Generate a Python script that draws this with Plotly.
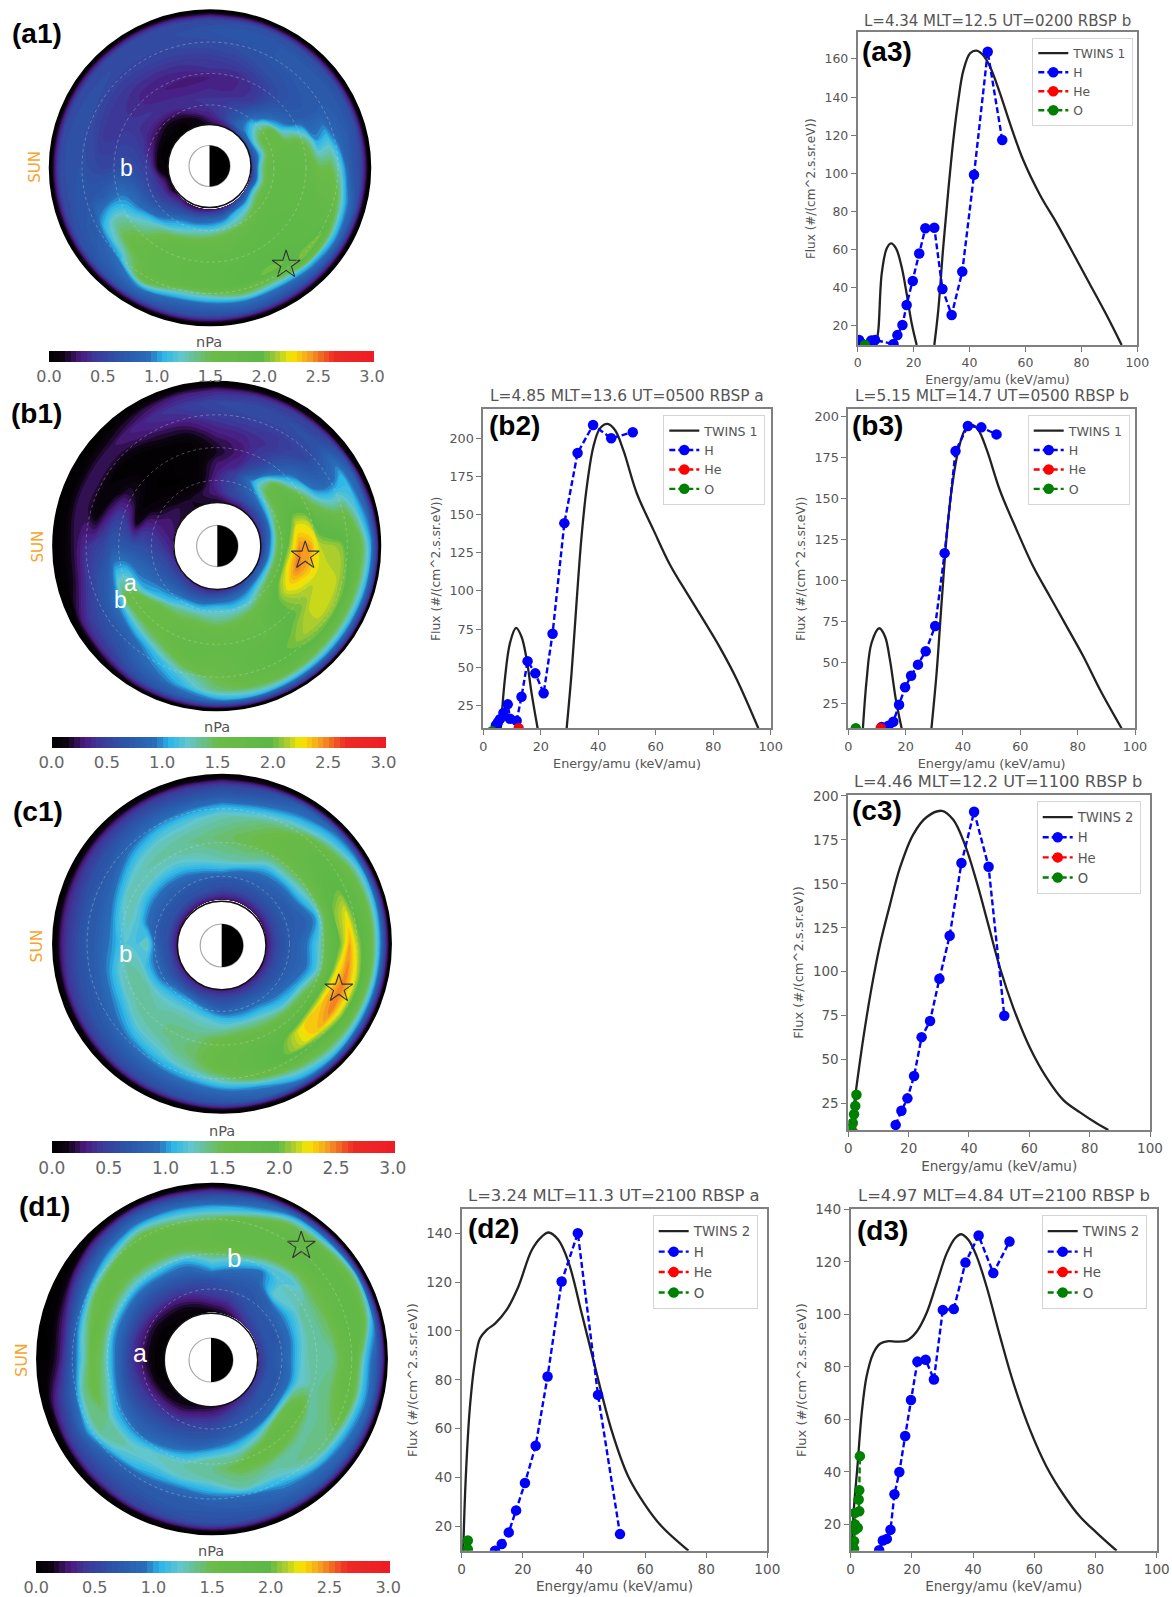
import math
import plotly.graph_objects as go

W, H = 1172, 1597

# ---------- pressure maps: rows = clock angle (0 top, clockwise, 15 deg step), columns = radial fraction ----------
ring_frac = [0, .08, .16, .25, .33, .42, .5, .58, .67, .75, .83, .92, .97, 1.0]
clock_deg = [i * 15 for i in range(25)]

a1_pressure = [
 [.15,.3,.4,.4,.35,.3,.4,.45,.55,.6,.65,.55,.2,0],
 [.2,.45,.5,.42,.35,.33,.4,.5,.6,.65,.7,.6,.2,0],
 [.25,.8,.7,.55,.42,.42,.5,.6,.65,.7,.7,.6,.2,0],
 [.5,1.0,1.15,.9,.75,.65,.62,.65,.7,.72,.72,.6,.2,0],
 [.5,1.2,1.6,1.7,1.1,.85,.75,.72,.72,.75,.75,.6,.2,0],
 [.5,1.05,1.6,1.7,1.7,1.7,1.4,1.0,1.1,.85,.75,.6,.2,0],
 [.4,1.3,1.7,1.75,1.75,1.75,1.7,1.5,1.5,1.2,.75,.55,.2,0],
 [.4,1.2,1.7,1.8,1.8,1.8,1.8,1.75,1.7,1.55,1.05,.65,.2,0],
 [.6,1.3,1.7,1.8,1.85,1.85,1.85,1.85,1.85,2.0,1.2,.7,.2,0],
 [.5,1.1,1.5,1.8,1.85,1.9,1.9,1.9,1.95,2.05,1.1,.65,.2,0],
 [.4,1.05,1.3,1.7,1.8,1.85,1.9,1.95,2.05,1.5,.95,.6,.2,0],
 [.3,.85,1.2,1.6,1.7,1.8,1.85,1.9,1.9,1.55,.95,.65,.2,0],
 [.25,.8,1.1,1.5,1.75,1.75,1.8,1.8,1.8,1.3,.85,.6,.2,0],
 [.2,.7,1.05,1.4,1.7,1.75,1.75,1.75,1.75,1.25,.85,.6,.2,0],
 [.2,.6,.95,1.2,1.55,1.7,1.75,1.75,1.7,1.7,1.0,.65,.2,0],
 [.25,.5,.7,.95,1.25,1.4,1.55,1.6,1.3,.95,.8,.65,.2,0],
 [.1,.4,.55,.75,.95,1.15,1.3,1.3,1.1,.75,.7,.6,.2,0],
 [.1,.35,.5,.65,.8,.9,.85,.75,.7,.68,.65,.55,.2,0],
 [.05,.1,.45,.55,.6,.6,.55,.55,.6,.65,.65,.55,.2,0],
 [.05,.05,.3,.45,.5,.5,.45,.45,.55,.62,.65,.55,.2,0],
 [.05,.05,.2,.35,.4,.42,.42,.42,.5,.6,.62,.55,.2,0],
 [.05,.05,.15,.35,.4,.35,.35,.4,.48,.55,.6,.55,.2,0],
 [.05,.05,.2,.4,.35,.3,.32,.4,.5,.55,.6,.55,.2,0],
 [.1,.15,.35,.4,.32,.28,.35,.42,.52,.58,.6,.55,.2,0],
]
b1_pressure = [
 [.15,.3,.35,.3,.25,.15,.2,.3,.4,.5,.55,.35,.1,0],
 [.2,.5,.55,.5,.35,.3,.3,.35,.45,.55,.6,.4,.1,0],
 [.2,.6,.8,1.05,.75,.55,.5,.42,.45,.55,.6,.45,.1,0],
 [.3,.65,1.05,1.6,1.7,1.1,.85,.7,.55,.6,.65,.5,.1,0],
 [.35,.7,1.3,1.7,1.8,1.7,1.3,.95,.85,.9,1.05,.75,.15,0],
 [.35,.8,1.5,1.9,2.2,2.15,1.8,1.65,1.5,1.5,1.2,.85,.3,0],
 [.35,.95,1.6,2.1,2.45,2.4,2.15,2.12,2.08,1.85,1.6,1.05,.5,0],
 [.4,1.0,1.65,2.25,2.5,2.35,2.2,2.17,2.15,2.0,1.6,1.05,.5,0],
 [.5,1.05,1.6,2.1,2.25,2.15,2.1,2.2,2.18,2.05,1.6,1.0,.45,0],
 [.5,1.0,1.4,1.7,1.9,1.95,1.95,2.05,2.1,2.0,1.6,1.0,.45,0],
 [.4,.9,1.15,1.5,1.65,1.7,1.75,1.85,1.95,1.85,1.65,1.0,.45,0],
 [.35,.85,1.1,1.4,1.6,1.7,1.75,1.75,1.75,1.7,1.55,1.05,.4,0],
 [.3,.8,1.15,1.35,1.55,1.65,1.7,1.65,1.6,1.5,1.4,.95,.35,0],
 [.3,.7,1.05,1.4,1.6,1.7,1.75,1.7,1.5,1.2,1.05,.75,.3,0],
 [.35,.65,1.0,1.35,1.55,1.6,1.6,1.45,1.1,.95,.8,.6,.25,0],
 [.4,.65,.9,1.1,1.55,1.6,1.55,1.2,.85,.7,.6,.4,.12,0],
 [.4,.6,.75,.95,1.05,1.5,1.55,1.0,.75,.6,.5,.3,.05,0],
 [.35,.55,.65,.8,.9,1.1,1.1,.75,.6,.45,.25,.05,0,0],
 [.3,.4,.5,.6,.65,.7,.7,.55,.45,.35,.2,.02,0,0],
 [.25,.3,.35,.35,.15,.45,.5,.3,.06,.2,.25,.05,0,0],
 [.2,.25,.2,.1,.03,.15,.2,.08,.05,.2,.25,.05,0,0],
 [.2,.2,.1,.03,0,.02,.02,.02,.05,.2,.25,.1,0,0],
 [.15,.15,.05,0,0,0,.02,.05,.18,.3,.35,.2,.05,0],
 [.15,.2,.1,.03,.02,.02,.03,.1,.25,.38,.45,.3,.08,0],
]
c1_pressure = [
 [.25,.55,.7,1.1,1.3,1.38,1.42,1.36,1.28,1.05,.75,.5,.15,0],
 [.25,.55,.7,.95,1.3,1.42,1.5,1.45,1.35,1.1,.8,.55,.15,0],
 [.25,.55,.7,.85,1.05,1.36,1.55,1.6,1.5,1.28,1.0,.75,.2,0],
 [.25,.55,.7,.8,1.0,1.36,1.6,1.7,1.75,1.6,1.2,.9,.25,0],
 [.25,.55,.7,.75,.95,1.25,1.6,1.85,1.9,1.8,1.5,1.0,.3,0],
 [.25,.55,.7,.75,.8,1.0,1.55,2.05,2.2,1.85,1.65,1.0,.35,0],
 [.25,.55,.7,.8,.95,1.2,1.65,1.95,2.4,2.05,1.7,.95,.3,0],
 [.25,.55,.7,.8,.9,1.15,1.6,2.2,2.5,2.2,1.75,.95,.3,0],
 [.25,.55,.7,.85,1.05,1.5,1.9,2.35,2.5,2.15,1.65,.95,.3,0],
 [.25,.55,.75,.95,1.15,1.6,1.85,2.3,2.3,1.9,1.5,1.0,.3,0],
 [.25,.55,.8,1.05,1.3,1.6,1.75,1.95,2.0,1.75,1.3,.9,.25,0],
 [.25,.55,.8,1.05,1.35,1.6,1.7,1.75,1.75,1.55,1.0,.75,.2,0],
 [.25,.55,.75,1.1,1.3,1.55,1.6,1.65,1.55,1.25,.9,.65,.2,0],
 [.25,.55,.9,1.2,1.3,1.38,1.42,1.42,1.3,1.05,.8,.6,.15,0],
 [.25,.55,1.0,1.22,1.32,1.36,1.36,1.3,1.15,.95,.75,.55,.15,0],
 [.25,.55,.95,1.18,1.28,1.32,1.32,1.25,1.05,.85,.7,.5,.12,0],
 [.25,.55,.8,1.08,1.3,1.32,1.28,1.08,.9,.75,.65,.45,.1,0],
 [.25,.6,.8,1.05,1.28,1.32,1.2,1.0,.8,.7,.6,.4,.1,0],
 [.25,.6,.75,1.3,1.15,1.2,1.05,.9,.75,.7,.55,.35,.1,0],
 [.25,.6,.7,.9,1.15,1.28,1.15,.9,.75,.7,.55,.35,.1,0],
 [.25,.6,.7,.85,1.05,1.28,1.28,1.05,.8,.7,.6,.38,.1,0],
 [.25,.6,.7,.85,1.05,1.28,1.3,1.22,1.0,.8,.65,.42,.12,0],
 [.25,.6,.7,.9,1.1,1.28,1.32,1.28,1.12,.9,.7,.45,.12,0],
 [.25,.6,.7,1.0,1.22,1.32,1.36,1.3,1.18,.95,.7,.45,.12,0],
]
d1_pressure = [
 [.1,.3,.5,.65,1.0,1.3,1.6,1.7,1.7,1.35,1.0,.55,.2,0],
 [.15,.35,.55,.7,.85,1.15,1.55,1.75,1.75,1.65,1.1,.7,.25,0],
 [.25,.5,.65,.7,.8,.95,1.3,1.7,1.75,1.75,1.6,.95,.3,0],
 [.4,.6,.7,.8,1.25,1.25,1.15,1.5,1.75,1.8,1.8,1.05,.35,0],
 [.45,.65,.7,.9,1.1,1.3,1.35,1.5,1.7,1.8,1.8,1.35,.4,0],
 [.45,.65,.7,.9,1.15,1.35,1.35,1.45,1.7,1.8,1.8,1.1,.4,0],
 [.4,.65,.75,.95,1.2,1.35,1.35,1.35,1.6,1.75,1.15,.75,.35,0],
 [.4,.65,.7,.9,1.2,1.3,1.35,1.4,1.6,1.7,1.15,.8,.3,0],
 [.4,.65,.7,.95,1.5,1.65,1.35,1.35,1.4,1.45,1.05,.75,.3,0],
 [.35,.6,.7,.9,1.5,1.7,1.5,1.3,1.4,1.3,.95,.7,.25,0],
 [.3,.55,.7,.85,1.2,1.6,1.6,1.35,1.25,1.05,.85,.65,.2,0],
 [.2,.45,.65,.8,1.05,1.35,1.55,1.4,1.3,.85,.75,.6,.2,0],
 [.15,.35,.55,.7,.95,1.3,1.35,1.3,1.05,.8,.7,.6,.2,0],
 [.1,.3,.5,.65,.8,1.1,1.3,1.25,.95,.75,.7,.55,.15,0],
 [.05,.2,.4,.6,.75,.95,1.25,1.2,1.0,.75,.65,.5,.12,0],
 [.05,.15,.35,.55,.7,.85,1.1,1.3,1.15,.8,.65,.45,.1,0],
 [.03,.1,.3,.5,.65,.9,1.1,1.35,1.4,1.05,.7,.4,.05,0],
 [.02,.05,.25,.45,.65,1.0,1.35,1.55,1.35,.85,.55,.25,.02,0],
 [.02,.05,.2,.4,.7,1.05,1.45,1.55,1.1,.65,.25,0,0,0],
 [.02,.05,.2,.4,.7,1.0,1.45,1.65,1.25,.75,.3,.02,0,0],
 [.02,.05,.2,.45,.7,1.0,1.4,1.65,1.5,.95,.6,.12,0,0],
 [.02,.08,.25,.5,.7,1.0,1.35,1.65,1.7,1.2,.8,.4,.05,0],
 [.03,.12,.3,.55,.75,1.05,1.4,1.7,1.7,1.5,1.0,.6,.15,0],
 [.05,.2,.4,.6,.8,1.05,1.45,1.7,1.7,1.35,1.0,.55,.15,0],
]
map_pressures = [a1_pressure, b1_pressure, c1_pressure, d1_pressure]

colorbar_ticks = [0.0, 0.5, 1.0, 1.5, 2.0, 2.5, 3.0]
pressure_colors = [
 [0/3, "#000000"], [.13/3, "#0d0412"], [.29/3, "#4b1a7e"], [.44/3, "#3b3a9a"], [.67/3, "#2b55a8"],
 [.93/3, "#2a6cb8"], [1.06/3, "#29b6ea"], [1.23/3, "#63c6cc"], [1.5/3, "#6cbb48"], [1.98/3, "#5cb847"],
 [2.12/3, "#a8cc30"], [2.25/3, "#f8e800"], [2.42/3, "#f5a020"], [2.65/3, "#ed2a24"], [3/3, "#ee1c25"],
]

# ---------- spectra ----------
a3_twins_x = [6.6,7.4,8.6,10.4,11.9,13.7,15.7,17.5,19.3,21.1,None,27.4,28.8,30.6,32.4,34.2,36,37.8,40.2,42.5,44.9,47.3,50.9,54.5,59.2,65.2,71.2,77.1,83,89,94.4]
a3_twins_y = [10,18,47.6,60.7,63.3,60.7,51,37,21.4,10,None,10,28,61.6,91,117.5,138.5,154,163,164.4,162,156,142,126,107,88.7,73.8,58,42,25.7,10]
a3_h_x = [.5,4.8,6.2,12.8,14.2,16,17.5,19.7,22,24.2,27.4,30.3,33.6,37.4,41.6,46.5,51.7]
a3_h_y = [12.6,12.3,12.6,10.5,15.2,20.5,31,43.6,58,71.2,71.5,39.4,25.7,48.5,99.3,163.8,117.5]
a3_he_x, a3_he_y = [3.0], [8.0]
a3_o_x, a3_o_y = [2.6], [10.0]

b2_twins_x = [6.1,7.5,9.3,11.4,13.3,15.1,16.8,18.9,None,29,30.7,32.5,34.2,36,38.3,40.6,43.2,45.8,48.7,53.4,59.2,65,70.8,76.6,82.4,88.2,95.7]
b2_twins_y = [10,42,66,75.8,70,55,33,10,None,10,46,94,136,168,194.5,206.5,209.4,205.4,192.4,164,140,117,98.7,81,62.7,42,10]
b2_h_x = [4.4,5.1,5.8,7,8.5,9.3,11.6,13.3,15.4,18.1,21,24.1,28.2,32.8,38.2,44.5,52]
b2_h_y = [12,14,16,20,25.7,16.3,15,30.7,54,46,33,72,144.4,190.4,208.7,200,204]
b2_he_x, b2_he_y = [12.3], [10.0]
b2_o_x, b2_o_y = [3.0], [8.0]

b3_twins_x = [5.1,6.4,8.1,10.8,12.8,14.5,16.6,18.6,None,29,30.8,32.6,34.3,36,38.4,40.7,43,45.3,48.3,52.9,58.7,64.5,70.3,76.2,82,87.8,95.3]
b3_twins_y = [10,39.6,62,71,66,52,27.4,10,None,10,43.7,88,127,155,179.7,192,195,192,179.7,155,131,108.6,90.4,72,53.8,33.5,10]
b3_h_x = [11.6,14,15.7,17.7,19.8,21.9,24.3,27,30.3,33.6,37.4,41.7,46.4,51.7]
b3_h_y = [10.8,11.6,14,24.4,35,42,48.8,57,72.3,116.8,179,194.3,193.5,189.2]
b3_he_x, b3_he_y = [11.3], [10.0]
b3_o_x, b3_o_y = [2.6], [10.0]

c3_twins_x = [.8,2.5,5,7.7,10.5,13.8,17.1,21.5,26,31,34.8,38.7,42.5,46.4,50.3,54.7,60.2,65.7,71.3,76.8,82.3,86.2]
c3_twins_y = [10,32,62.5,90.8,115.4,138,159,178,188,191.5,186.4,172,151.4,126.8,102,79.5,56.8,39.8,27,20,13.8,10]
c3_h_x = [15.7,17.6,19.6,21.8,24.3,27.1,30.2,33.6,37.5,41.7,46.5,51.7]
c3_h_y = [12.9,20.9,28,40.7,62.8,72,96,120.5,161.8,191,159.7,75]
c3_he_x, c3_he_y = [2.0], [8.0]
c3_o_x = [1,1.5,1.9,2.3,2.7]
c3_o_y = [11,14,19,23.7,30]

d2_twins_x = [.5,1.3,2.7,4.4,6,8.2,10.9,14.7,18.5,22.9,26.2,28.4,31.6,34.9,39.3,43.6,49,54.5,60,65.4,74.2]
d2_twins_y = [10,39,69,88,97,100.4,103,108.6,118,133,138.6,140.3,137.3,128.4,107,85.4,59.5,40.4,28.8,20,10]
d2_h_x = [10.9,13.1,15.4,17.8,20.7,24.2,28.1,32.7,38,44.6,51.8]
d2_h_y = [10,12.7,17.5,26.5,37.7,53,81.3,120.2,140,73.8,16.8]
d2_he_x, d2_he_y = [2.0], [8.0]
d2_o_x, d2_o_y = [2,2], [10.6,14.2]

d3_twins_x = [.3,1.1,2.2,3.6,5.2,7.4,9.6,12.3,15,18.3,21.6,24.8,28.1,31.4,34.1,36.1,38.5,41.2,44.4,48.8,53.2,58.6,64,69.5,74.9,80.4,86.9]
d3_twins_y = [10,27,42,62.4,76.4,85.2,88.8,89.8,89.6,90,93.5,100.5,111.9,123.3,129,130.5,128.3,122,110.6,91.6,73.8,56,42,31.4,23,16.8,10]
d3_h_x = [9.3,10.5,11.8,13,14.3,15.9,17.8,19.7,21.8,24.5,27.2,30.1,33.7,37.5,41.8,46.6,51.9]
d3_h_y = [10.2,13.9,14.5,18,31.5,40,53.7,67.4,82,82.7,75.2,101.7,102,119.7,130,115.7,127.7]
d3_he_x, d3_he_y = [1.5], [8.0]
d3_o_x = [1.1,1.1,1.4,2.3,1.4,1.4,2.8,2.6,2.8,3]
d3_o_y = [10.7,13.6,18,18.7,20,24.4,25,29.5,33,46]

x_ticks = [0, 20, 40, 60, 80, 100]

fig = go.Figure()
layout = {}
shapes, annotations = [], []

def px(x): return x / W
def py(y): return 1 - y / H

def note(x, y, text, size, color, family="DejaVu Sans", bold=False, angle=0):
    annotations.append(dict(x=px(x), y=py(y), xref="paper", yref="paper", text=f"<b>{text}</b>" if bold else text,
                            showarrow=False, xanchor="center", yanchor="middle", textangle=angle,
                            font=dict(size=size, color=color, family=family)))

# ---------- map panels ----------
layout["xaxis"] = dict(domain=[0, 1], range=[0, W], visible=False, anchor="y")
layout["yaxis"] = dict(domain=[0, 1], range=[H, 0], visible=False, anchor="x")

map_specs = [
 dict(name="a", c=(210, 167.8), rx=160, ry=157.2, rin=41.5, earth=(209.5, 166, 20.5), cb=(49, 372, 351, 362.3, 16), unit=(209, 341.7),
      star=(142.3, .70), sun=(35, 166.7, 15), marks=[("b", 126, 168, 23)]),
 dict(name="b", c=(216.7, 546), rx=163.3, ry=164, rin=43.5, earth=(217.3, 546, 20.7), cb=(51.7, 383.3, 736.7, 747.7, 16.5), unit=(217, 726.7),
      star=(96.2, .38), sun=(37.7, 546.7, 15), marks=[("a", 130, 583, 23), ("b", 120.7, 600, 23)]),
 dict(name="c", c=(222, 943.8), rx=168.7, ry=168.8, rin=44.3, earth=(221.7, 945.5, 21.5), cb=(51.7, 393, 1140.7, 1152.3, 17), unit=(221.7, 1130.7),
      star=(111, .65), sun=(36.7, 945.7, 15.5), marks=[("b", 125.7, 953, 24)]),
 dict(name="d", c=(212, 1359), rx=174.7, ry=175, rin=46.7, earth=(211, 1360, 22), cb=(36, 388.3, 1560.5, 1572.5, 16), unit=(211, 1551),
      star=(38.3, .76), sun=(21, 1360, 16), marks=[("a", 140, 1352.7, 25), ("b", 234, 1258, 26)]),
]

for spec, table in zip(map_specs, map_pressures):
    cx, cy = spec["c"]
    rx, ry, rin = spec["rx"], spec["ry"], spec["rin"]
    gx, gy = [], []
    for deg in clock_deg:
        t = math.radians(deg)
        gx.append([cx + (rin + s * (rx - rin)) * math.sin(t) for s in ring_frac])
        gy.append([cy - (rin + s * (ry - rin)) * math.cos(t) for s in ring_frac])
    cid = "carpet_" + spec["name"]
    axis_off = dict(showgrid=False, showline=False, showticklabels="none", minorgridcount=0,
                    startline=False, endline=False, smoothing=1)
    fig.add_trace(go.Carpet(carpet=cid, a=ring_frac, b=clock_deg, x=gx, y=gy, aaxis=axis_off, baxis=axis_off,
                            xaxis="x", yaxis="y"))
    x0, x1, y0, y1, fs = spec["cb"]
    fig.add_trace(go.Contourcarpet(
        carpet=cid, a=ring_frac, b=clock_deg, z=table + [table[0]],
        autocontour=False, contours=dict(start=0, end=3, size=.05, coloring="fill", showlines=False),
        line=dict(width=0), zmin=0, zmax=3, colorscale=pressure_colors, xaxis="x", yaxis="y",
        colorbar=dict(orientation="h", lenmode="pixels", len=x1 - x0, thicknessmode="pixels", thickness=y1 - y0,
                      x=px((x0 + x1) / 2), xanchor="center", y=py(y0), yanchor="top", ypad=0, xpad=0,
                      outlinewidth=0, ticks="", tickvals=colorbar_ticks, ticktext=[f"{v:.1f}" for v in colorbar_ticks],
                      tickfont=dict(size=fs, color="#666666", family="DejaVu Sans"))))
    note(spec["unit"][0], spec["unit"][1], "nPa", 14.5, "#555555")
    # black rim of the map
    shapes.append(dict(type="circle", xref="paper", yref="paper", layer="above",
                       x0=px(cx - rx), x1=px(cx + rx), y0=py(cy - ry), y1=py(cy + ry),
                       line=dict(color="#000000", width=2.5)))
    # faint dotted distance rings
    for f in (.4, .6, .8):
        shapes.append(dict(type="circle", xref="paper", yref="paper", layer="above",
                           x0=px(cx - f * rx), x1=px(cx + f * rx), y0=py(cy - f * ry), y1=py(cy + f * ry),
                           line=dict(color="rgba(215,215,215,0.35)", width=1, dash="dot")))
    # central hole and Earth
    shapes.append(dict(type="circle", xref="paper", yref="paper", layer="above", fillcolor="white",
                       x0=px(spec["earth"][0] - rin), x1=px(spec["earth"][0] + rin),
                       y0=py(spec["earth"][1] - rin), y1=py(spec["earth"][1] + rin), line=dict(width=1.5, color="#111111")))
    ex, ey, er = spec["earth"]
    shapes.append(dict(type="circle", xref="paper", yref="paper", layer="above", fillcolor="white",
                       x0=px(ex - er), x1=px(ex + er), y0=py(ey - er), y1=py(ey + er),
                       line=dict(color="#aaaaaa", width=1.2)))
    k = .5523 * er
    path = (f"M {px(ex)} {py(ey - er)} C {px(ex + k)} {py(ey - er)} {px(ex + er)} {py(ey - k)} {px(ex + er)} {py(ey)} "
            f"C {px(ex + er)} {py(ey + k)} {px(ex + k)} {py(ey + er)} {px(ex)} {py(ey + er)} Z")
    shapes.append(dict(type="path", xref="paper", yref="paper", layer="above", path=path, fillcolor="black", line=dict(width=0)))
    # star
    sdeg, sfrac = spec["star"]
    t = math.radians(sdeg)
    fig.add_trace(go.Scatter(x=[cx + (rin + sfrac * (rx - rin)) * math.sin(t)], y=[cy - (rin + sfrac * (ry - rin)) * math.cos(t)],
                             mode="markers", xaxis="x", yaxis="y", showlegend=False,
                             marker=dict(symbol="star-open", size=21, color="#333333", line=dict(width=1.1, color="#333333"))))
    sx, sy, sf = spec["sun"]
    note(sx, sy, "SUN", sf, "#f6a42c", angle=-90)
    for txt, mx, my, mf in spec["marks"]:
        note(mx, my, txt, mf, "white", family="Liberation Sans")

# ---------- spectra panels ----------
panels = [
 dict(box=(857.7, 1137.3, 32.3, 345), yr=(10, 174), yt=list(range(20, 161, 20)), title="L=4.34 MLT=12.5 UT=0200 RBSP b",
      tc=(997, 20.7), fs=12.5, tf=15, twins="TWINS 1", tw=(a3_twins_x, a3_twins_y), h=(a3_h_x, a3_h_y), he=(a3_he_x, a3_he_y), o=(a3_o_x, a3_o_y),
      leg=(1032.3, 37.7), lf=12.3),
 dict(box=(483.3, 770.7, 409.3, 728.3), yr=(10, 219), yt=list(range(25, 201, 25)), title="L=4.85 MLT=13.6 UT=0500 RBSP a",
      tc=(627, 396), fs=12.8, tf=15.4, twins="TWINS 1", tw=(b2_twins_x, b2_twins_y), h=(b2_h_x, b2_h_y), he=(b2_he_x, b2_he_y), o=(b2_o_x, b2_o_y),
      leg=(663.3, 415), lf=12.6),
 dict(box=(848.3, 1135, 409.3, 728.3), yr=(10, 204.5), yt=list(range(25, 201, 25)), title="L=5.15 MLT=14.7 UT=0500 RBSP b",
      tc=(992, 396), fs=12.8, tf=15.4, twins="TWINS 1", tw=(b3_twins_x, b3_twins_y), h=(b3_h_x, b3_h_y), he=(b3_he_x, b3_he_y), o=(b3_o_x, b3_o_y),
      leg=(1027.7, 415), lf=12.6),
 dict(box=(848.3, 1150, 795, 1130), yr=(10, 200.5), yt=list(range(25, 201, 25)), title="L=4.46 MLT=12.2 UT=1100 RBSP b",
      tc=(998, 781), fs=13.5, tf=16.2, twins="TWINS 2", tw=(c3_twins_x, c3_twins_y), h=(c3_h_x, c3_h_y), he=(c3_he_x, c3_he_y), o=(c3_o_x, c3_o_y),
      leg=(1036.7, 801), lf=13.2),
 dict(box=(461.7, 767.3, 1209.3, 1550.7), yr=(10, 149.8), yt=list(range(20, 141, 20)), title="L=3.24 MLT=11.3 UT=2100 RBSP a",
      tc=(614, 1195), fs=13.6, tf=16.4, twins="TWINS 2", tw=(d2_twins_x, d2_twins_y), h=(d2_h_x, d2_h_y), he=(d2_he_x, d2_he_y), o=(d2_o_x, d2_o_y),
      leg=(652.7, 1215), lf=13.4),
 dict(box=(850.7, 1156.7, 1209.3, 1550.7), yr=(10, 140), yt=list(range(20, 141, 20)), title="L=4.97 MLT=4.84 UT=2100 RBSP b",
      tc=(1004, 1195), fs=13.6, tf=16.4, twins="TWINS 2", tw=(d3_twins_x, d3_twins_y), h=(d3_h_x, d3_h_y), he=(d3_he_x, d3_he_y), o=(d3_o_x, d3_o_y),
      leg=(1041.7, 1215), lf=13.4),
]

for i, p in enumerate(panels):
    n = i + 2
    xa, ya = f"x{n}", f"y{n}"
    lname = "legend" if i == 0 else f"legend{i + 1}"
    l, r, t, b = p["box"]
    axis_style = dict(showline=True, mirror=True, linecolor="#808080", linewidth=1.8, ticks="outside", ticklen=5, tickwidth=1.2,
                      tickcolor="#777777", showgrid=False, zeroline=False,
                      tickfont=dict(size=p["fs"], color="#555555", family="DejaVu Sans"))
    layout[f"xaxis{n}"] = dict(domain=[px(l), px(r)], anchor=ya, range=[0, 100], tickvals=x_ticks,
                               title=dict(text="Energy/amu (keV/amu)", standoff=6, font=dict(size=p["fs"], color="#555555", family="DejaVu Sans")), **axis_style)
    layout[f"yaxis{n}"] = dict(domain=[py(b), py(t)], anchor=xa, range=list(p["yr"]), tickvals=p["yt"],
                               title=dict(text="Flux (#/(cm^2.s.sr.eV))", standoff=6, font=dict(size=p["fs"] - .5, color="#555555", family="DejaVu Sans")), **axis_style)
    ms = 10.5
    fig.add_trace(go.Scatter(x=p["tw"][0], y=p["tw"][1], mode="lines", name=p["twins"], xaxis=xa, yaxis=ya, legend=lname,
                             line=dict(color="#222222", width=2.3, shape="spline", smoothing=1)))
    for key, label, col in (("h", "H", "#0000ff"), ("he", "He", "#ff0000"), ("o", "O", "#008000")):
        fig.add_trace(go.Scatter(x=p[key][0], y=p[key][1], mode="lines+markers", name=label, xaxis=xa, yaxis=ya, legend=lname,
                                 line=dict(color=col, width=2.4, dash="6px,3px"), marker=dict(color=col, size=ms)))
    layout[lname] = dict(x=px(p["leg"][0]), y=py(p["leg"][1]), xanchor="left", yanchor="top", bgcolor="rgba(255,255,255,0.8)",
                         bordercolor="#d5d5d5", borderwidth=1, font=dict(size=p["lf"], color="#555555", family="DejaVu Sans"))
    note(p["tc"][0], p["tc"][1], p["title"], p["tf"], "#555555")

# ---------- panel letters ----------
panel_letters = [("(a1)", 36.5, 33), ("(a3)", 886.5, 52), ("(b1)", 36, 413), ("(b2)", 514, 425), ("(b3)", 877.5, 425),
                 ("(c1)", 37.5, 812), ("(c3)", 877, 810), ("(d1)", 44.5, 1206), ("(d2)", 493.5, 1228), ("(d3)", 882, 1230)]
for txt, lx, ly in panel_letters:
    note(lx, ly, txt, 28, "#000000", family="Liberation Sans", bold=True)

fig.update_layout(width=W, height=H, autosize=False, margin=dict(l=0, r=0, t=0, b=0, autoexpand=False), plot_bgcolor="white", paper_bgcolor="white",
                  shapes=shapes, annotations=annotations, showlegend=True, **layout)

fig.write_html("out.html", config={"displayModeBar": False}, post_script="document.body.style.margin='0';")
